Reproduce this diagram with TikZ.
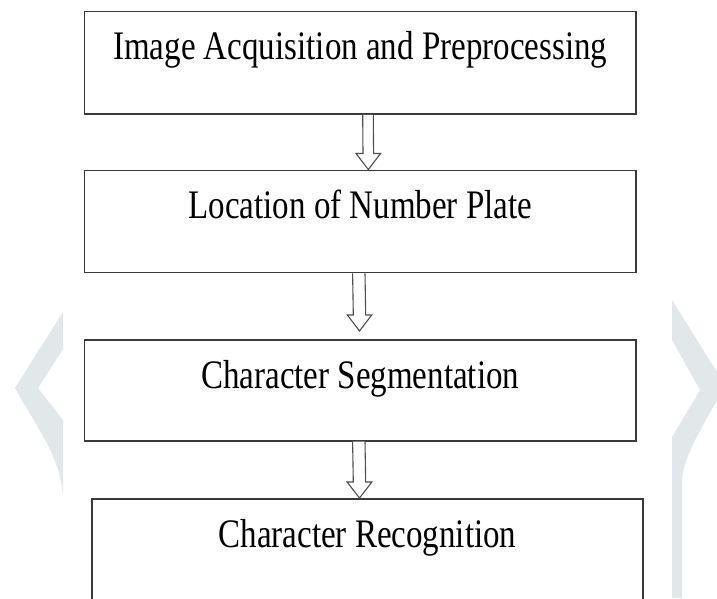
\documentclass[tikz,border=0pt]{standalone}
\usepackage{fontspec}
\newfontfamily\tnr{Liberation Serif}[FakeStretch=0.815]
\usetikzlibrary{calc}
\definecolor{wmark}{RGB}{226,231,233}
\definecolor{edge}{RGB}{58,58,58}
\tikzset{
  stagebox/.style={draw=edge, line width=1.5pt, rectangle, anchor=north,
    inner xsep=0pt, inner ysep=0pt, minimum width=551.4pt,
    text height=48.5pt, font=\tnr\fontsize{40.5}{48}\selectfont},
  harrow/.style={draw=edge!90, line width=1.1pt, fill=white, line join=miter}
}
\newcommand\hollowarrow[4]{%
  \draw[harrow] ($(#1)+(-#3,0)$) -- ($(#2)+(-#3,-16)$) -- ($(#2)+(-#4,-16)$) -- (#2)
    -- ($(#2)+(#4,-16)$) -- ($(#2)+(#3,-16)$) -- ($(#1)+(#3,0)$);}
\begin{document}
\begin{tikzpicture}[x=1pt,y=-1pt]
\useasboundingbox (0,0) rectangle (717,598);
\clip (0,0) rectangle (717,598);
% watermark chevrons
\fill[wmark] (63,312) -- (15,388) .. controls (38,430) and (60,455) .. (63,497)
  -- (63,420) -- (38,388) -- (63,349) -- cycle;
\fill[wmark] (672,300) -- (717,372) -- (717,400) .. controls (695,440) and (682,460) .. (682,485)
  -- (682,598) -- (672,598) -- (672,437) -- (700,390) -- (672,340) -- cycle;
% boxes
\node[stagebox, text depth=54.1pt] (b1) at (360.3,10.7) {Image Acquisition and Preprocessing};
\node[stagebox, text depth=53.8pt] (b2) at (360.3,169.5) {Location of Number Plate};
\node[stagebox, text depth=52.5pt] (b3) at (360.3,339) {Character Segmentation};
\node[stagebox, text depth=150pt] (b4) at (367.5,498) {Character Recognition};
% arrows
\coordinate (a1s) at (368,0 |- b1.south);
\coordinate (a1t) at (368.3,0 |- b2.north);
\coordinate (a2s) at (358.8,0 |- b2.south);
\coordinate (a2t) at (359.5,331);
\coordinate (a3s) at (358.8,0 |- b3.south);
\coordinate (a3t) at (359.5,0 |- b4.north);
\hollowarrow{a1s}{a1t}{5.3}{12.3}
\hollowarrow{a2s}{a2t}{6.2}{12.2}
\hollowarrow{a3s}{a3t}{6.2}{12.4}
\end{tikzpicture}
\end{document}
